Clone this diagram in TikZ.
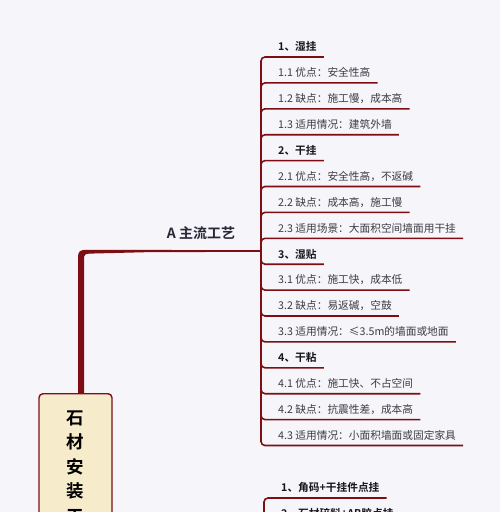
\documentclass[tikz,border=0pt]{standalone}
\usepackage{fontspec}
\setmainfont{Noto Sans CJK SC}[BoldFont={Noto Sans CJK SC Bold}]
\usetikzlibrary{positioning}
\usetikzlibrary{calc}
\usetikzlibrary{backgrounds}

\definecolor{bgpaper}{RGB}{245,245,250}
\definecolor{branchred}{RGB}{125,14,18}
\definecolor{rootfill}{RGB}{246,236,204}
\definecolor{itemgray}{RGB}{60,60,66}
\definecolor{headink}{RGB}{22,22,28}
\definecolor{labelink}{RGB}{40,40,54}

\tikzset{
  branch/.style={branchred,line width=1.6pt,rounded corners=4pt},
  item/.style={anchor=south west,inner xsep=7pt,inner ysep=0pt,text height=9pt,text depth=6pt,
    font=\fontsize{10.7}{12}\selectfont,text=itemgray},
  head/.style={item,font=\fontsize{10.7}{12}\selectfont\bfseries,text=headink},
  rootbox/.style={draw=branchred,line width=1.4pt,fill=rootfill,rounded corners=4pt,
    anchor=north,minimum width=73pt,inner ysep=17pt,align=center,
    font=\fontsize{17.5}{24.5}\selectfont\bfseries,text=black},
  mainlabel/.style={font=\fontsize{14}{16}\selectfont\bfseries,text=labelink},
}

\begin{document}
\begin{tikzpicture}[x=1pt,y=-1pt]
\useasboundingbox (0,0) rectangle (500,512);
\clip (0,0) rectangle (500,512);

% first branch
\coordinate (hub) at (261,251);
\foreach \n/\kind/\txt in {1/head/{1、湿挂}, 2/item/{1.1 优点：安全性高}, 3/item/{1.2 缺点：施工慢，成本高},
    4/item/{1.3 适用情况：建筑外墙}, 5/head/{2、干挂}, 6/item/{2.1 优点：安全性高，不返碱},
    7/item/{2.2 缺点：成本高，施工慢}, 8/item/{2.3 适用场景：大面积空间墙面用干挂}, 9/head/{3、湿贴},
    10/item/{3.1 优点：施工快，成本低}, 11/item/{3.2 缺点：易返碱，空鼓},
    12/item/{3.3 适用情况：≤3.5m的墙面或地面}, 13/head/{4、干粘}, 14/item/{4.1 优点：施工快、不占空间},
    15/item/{4.2 缺点：抗震性差，成本高}, 16/item/{4.3 适用情况：小面积墙面或固定家具}}
{
  \pgfmathsetmacro\yu{57+25.9*(\n-1)}
  \node[\kind] (c\n) at (271,\yu) {\txt};
}
\foreach \n in {1,...,16}
  \draw[branch] (hub) |- (c\n.south west) -- (c\n.south east);
\node[mainlabel] (lblA) at (201,233) {A 主流工艺};

% second branch
\coordinate (hub2) at (264,600);
\node[head] (d1) at (274,498) {1、角码+干挂件点挂};
\node[head] (d2) at (274,524) {2、石材碎料+AB胶点挂};
\foreach \n in {1,2}
  \draw[branch] (hub2) |- (d\n.south west) -- (d\n.south east);

% root and trunk
\node[rootbox] (root) at (75.5,393) {石\\材\\安\\装\\工\\艺};
\coordinate (stem) at ([xshift=5.5pt]root.north);
\begin{scope}[on background layer]
\fill[bgpaper] (0,0) rectangle (500,512);
\fill[branchred] ($(stem)+(-3,0)$) -- ($(stem|-hub)+(-3,7)$)
  .. controls ($(stem|-hub)+(-3,0)$) and ($(stem|-hub)+(-1,-1.2)$) .. ($(stem|-hub)+(6,-1.2)$)
  -- ($(hub)+(0,-0.8)$) -- ($(hub)+(0,0.8)$) -- ($(stem|-hub)+(65,1.2)$)
  -- ($(stem|-hub)+(9,2.6)$)
  .. controls ($(stem|-hub)+(4,2.6)$) and ($(stem|-hub)+(3,4)$) .. ($(stem|-hub)+(3,8)$)
  -- ($(stem)+(3,0)$) -- cycle;
\end{scope}
\end{tikzpicture}
\end{document}
